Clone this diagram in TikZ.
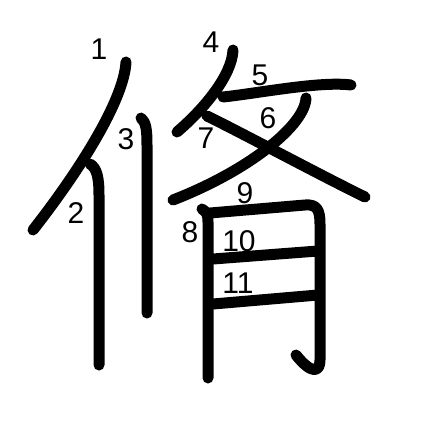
\documentclass[tikz,border=0pt]{standalone}
\usepackage{fontspec}
\setmainfont{Liberation Sans}
\usetikzlibrary{positioning}
\tikzset{
  stroke/.style={line width=11pt, line cap=round, line join=round, black},
  num/.style={font=\fontsize{30}{30}\selectfont, inner sep=0pt, text=black},
}
\begin{document}
\begin{tikzpicture}[x=1pt, y=-1pt]
    \useasboundingbox[fill=white] (0,0) rectangle (447,447);
    % strokes
    \draw[stroke] (126,62) .. controls (124,100) and (80,170) .. (33,230);
    \draw[stroke] (90,164) .. controls (97,168) and (99,178) .. (99,195) -- (99,365);
    \draw[stroke] (141,118) .. controls (146,122) and (147,130) .. (147,145) -- (147,313);
    \draw[stroke] (233,50) .. controls (232,75) and (205,108) .. (177,132);
    \draw[stroke] (223,97) .. controls (260,93) and (320,81) .. (351,85);
    \draw[stroke] (306,98) .. controls (305,125) and (250,170) .. (173,200);
    \draw[stroke] (207,116) .. controls (240,132) and (320,175) .. (365,197);
    \draw[stroke] (202,209) .. controls (207,212) and (208,215) .. (208,222) -- (208,378);
    \draw[stroke] (210,213) -- (305,205) .. controls (317,204) and (320,210) .. (320,224)
        -- (320,360) .. controls (320,372) and (312,375) .. (296,355);
    \draw[stroke] (213,259) -- (318,251);
    \draw[stroke] (213,304) -- (318,295);

    % stroke numbers
    \node[num] (n1) at (99,49) {1};
    \node[num] (n2) at (76,213) {2};
    \node[num] (n3) at (126,139) {3};
    \node[num] (n4) at (211,42) {4};
    \node[num] (n5) at (260,75) {5};
    \node[num] (n6) at (268,118) {6};
    \node[num] (n7) at (206,138) {7};
    \node[num] (n8) at (190,232) {8};
    \node[num] (n9) at (245,193) {9};
    \node[num] (n10) at (239,241) {10};
    \node[num] (n11) at (238,283) {11};
\end{tikzpicture}
\end{document}
